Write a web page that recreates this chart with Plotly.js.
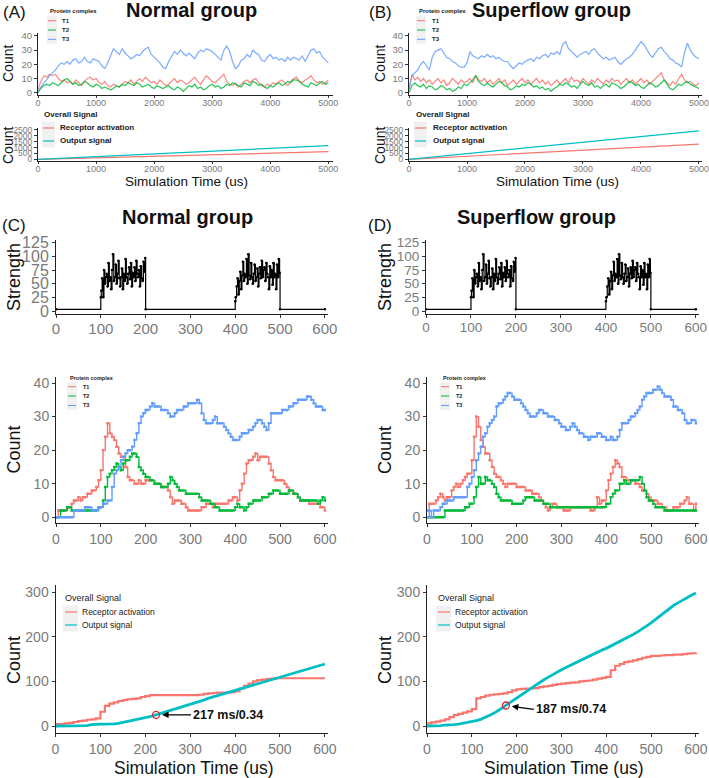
<!DOCTYPE html>
<html><head><meta charset="utf-8">
<script src="https://cdn.plot.ly/plotly-3.0.1.min.js"></script>
<style>html,body{margin:0;padding:0;background:#fff}#chart{width:709px;height:778px}</style>
</head><body><div id="chart"></div>
<script>
// ---------------- DATA ----------------
const seriesProtein = ['T1','T2','T3'];
const colorsProtein = ['#F8766D','#00BA38','#619CFF'];
const seriesSignal = ['Receptor activation','Output signal'];
const colorsSignal = ['#F8766D','#00BFC4'];

const tickLong = [0,1000,2000,3000,4000,5000];
const tickCount40 = [0,10,20,30,40];
const tickSignalLong = [0,500,1000,1500,2000,2500];
const tickShort = [0,100,200,300,400,500,600];
const tickStrength = [0,25,50,75,100,125];
const tickSignal = [0,100,200,300];

// 0..5000 us every 50 us (panels A, B protein)
const t50 = [0,50,100,150,200,250,300,350,400,450,
500,550,600,650,700,750,800,850,900,950,
1000,1050,1100,1150,1200,1250,1300,1350,1400,1450,
1500,1550,1600,1650,1700,1750,1800,1850,1900,1950,
2000,2050,2100,2150,2200,2250,2300,2350,2400,2450,
2500,2550,2600,2650,2700,2750,2800,2850,2900,2950,
3000,3050,3100,3150,3200,3250,3300,3350,3400,3450,
3500,3550,3600,3650,3700,3750,3800,3850,3900,3950,
4000,4050,4100,4150,4200,4250,4300,4350,4400,4450,
4500,4550,4600,4650,4700,4750,4800,4850,4900,4950,
5000];
const normalT1 = [2,8,12,11,13,12,13,10,8,9, 7,8,6,9,7,5,8,10,11,9, 10,7,6,8,5,4,6,5,4,6, 8,7,9,6,8,10,8,11,9,7,
 8,6,9,7,5,6,8,10,7,9, 8,6,7,9,11,8,6,9,12,10, 8,7,9,11,13,8,6,5,7,4, 6,8,9,7,9,10,7,5,4,6,
 5,7,6,8,9,7,5,8,10,11, 8,7,9,10,12,9,7,8,6,7, 9];
const normalT2 = [0,3,5,6,5,7,6,5,7,9, 10,8,6,7,5,6,8,7,5,4, 6,5,3,4,3,2,3,5,4,6, 5,7,6,5,7,6,4,5,6,4,
 3,5,4,3,4,5,3,2,4,3, 1,3,5,4,6,3,4,2,3,5, 6,4,5,3,4,6,5,7,6,5, 4,7,6,5,8,7,5,6,4,3,
 5,4,6,7,5,6,8,7,9,9, 8,6,5,4,7,6,5,7,8,6, 7];
const normalT3 = [1,4,7,9,12,14,16,19,21,20, 22,20,23,24,21,22,25,22,21,24, 23,22,19,17,21,26,31,29,27,31, 28,26,24,25,27,26,29,31,32,27,
 25,23,21,18,17,22,26,29,27,30, 28,26,28,26,24,28,30,29,31,30, 29,27,25,23,30,33,29,22,17,19, 23,24,27,25,30,28,27,23,22,25,
 27,24,25,23,24,22,25,23,25,24, 23,26,22,26,30,31,28,29,25,23, 21];
const superT1 = [3,13,9,11,8,10,7,9,6,8, 10,7,9,5,7,10,8,6,9,7, 8,10,7,12,9,8,10,7,9,6, 8,10,7,9,5,7,9,6,8,10,
 7,9,6,8,10,7,9,6,8,5, 7,9,6,8,10,7,11,8,9,7, 10,8,6,9,7,10,8,6,9,7, 10,8,9,6,8,10,7,9,6,8,
 10,7,9,6,8,10,12,14,9,7, 5,8,6,10,13,9,7,8,6,5, 7];
const superT2 = [0,5,7,5,4,6,3,5,4,2, 3,5,4,2,3,1,2,4,3,6, 5,7,9,12,8,6,5,7,5,4, 6,8,7,5,4,2,3,5,4,6,
 5,7,6,4,5,3,4,2,3,1, 3,4,6,5,7,6,4,5,3,6, 8,6,5,7,4,5,3,5,6,4, 7,6,5,3,4,6,8,7,5,6,
 4,3,5,7,6,4,5,7,9,6, 3,2,4,6,5,7,8,6,5,4, 3];
const superT3 = [2,12,14,16,20,22,19,16,25,29, 30,31,28,25,24,22,21,19,18,18, 21,29,26,25,24,26,25,27,25,26, 24,25,23,22,22,19,17,19,21,20,
 22,23,24,22,25,24,26,27,25,28, 27,29,27,34,36,31,29,27,25,27, 28,29,27,30,31,28,26,24,25,23, 24,25,22,20,22,24,25,27,30,33,
 36,34,30,27,25,28,31,32,29,27, 24,23,21,20,18,28,35,30,27,25, 24];

// 0..5000 us every 500 us (panels A, B overall signal)
const t500 = [0,500,1000,1500,2000,2500,3000,3500,4000,4500,5000];
const normalReceptorLong = [0,70,135,200,265,330,395,460,525,590,650];
const normalOutputLong   = [0,110,225,340,455,570,690,805,925,1040,1160];
const superReceptorLong  = [0,130,260,390,520,650,780,910,1040,1170,1300];
const superOutputLong    = [0,240,480,720,965,1210,1450,1690,1930,2170,2420];

// input strength (panels C, D)
const strengthT = [0,100,101,103,105,107,109,111,113,115,117,119,121,123,125,127,129,131,133,135,137,139,
 141,143,145,147,149,151,153,155,157,159,161,163,165,167,169,171,173,175,177,179,181,183,185,187,189,191,193,195,197,199,200,
 400,401,403,405,407,409,411,413,415,417,419,421,423,425,427,429,431,433,435,437,439,
 441,443,445,447,449,451,453,455,457,459,461,463,465,467,469,471,473,475,477,479,481,483,485,487,489,491,493,495,497,499,500,600];
const strengthV = [3,25,37,60,25,75,50,62,68,45,88,55,62,40,75,104,55,62,85,50,68,92,
 60,45,62,78,40,68,55,95,62,50,68,80,58,88,45,70,62,80,55,92,68,62,75,45,82,60,55,90,72,97,3,
 18,25,45,60,30,55,72,40,65,90,55,68,62,95,50,104,65,58,88,62,50,
 68,85,55,62,78,45,68,80,60,92,62,75,80,55,88,68,62,40,82,62,75,48,88,62,68,40,85,62,95,70,3,3];

// 0..600 us every 5 us (panels C, D protein)
const t5 = [0,5,10,15,20,25,30,35,40,45, 50,55,60,65,70,75,80,85,90,95,
 100,105,110,115,120,125,130,135,140,145, 150,155,160,165,170,175,180,185,190,195,
 200,205,210,215,220,225,230,235,240,245, 250,255,260,265,270,275,280,285,290,295,
 300,305,310,315,320,325,330,335,340,345, 350,355,360,365,370,375,380,385,390,395,
 400,405,410,415,420,425,430,435,440,445, 450,455,460,465,470,475,480,485,490,495,
 500,505,510,515,520,525,530,535,540,545, 550,555,560,565,570,575,580,585,590,595, 600];
const normalShortT1 = [0,2,2,2,2,3,3,4,5,5, 6,5,6,6,7,7,8,8,9,11, 14,20,24,28,25,24,23,21,19,18, 18,15,12,11,11,10,10,11,10,10,
 11,11,11,11,10,10,10,9,9,9, 8,6,4,5,5,5,4,4,3,2, 2,2,2,2,2,3,3,4,4,4, 3,4,4,4,4,4,4,5,5,6,
 6,5,8,10,13,16,17,17,18,19, 17,18,18,18,18,16,14,12,11,11, 11,11,10,9,8,8,7,7,6,5, 5,5,5,4,4,4,4,4,3,3, 2];
const normalShortT2 = [0,0,2,2,2,3,3,2,2,2, 2,2,2,2,2,2,2,2,2,3, 3,5,9,12,13,14,15,16,15,14, 16,17,17,18,19,19,18,15,14,13,
 12,12,11,11,10,10,10,9,9,9, 10,12,11,10,9,8,8,8,7,7, 7,7,7,7,6,5,5,5,5,4, 4,3,3,2,2,2,2,2,2,2,
 3,4,3,3,2,3,4,4,5,5, 5,5,6,6,6,7,7,8,8,8, 7,7,7,7,8,8,7,7,6,5, 5,5,5,5,5,5,5,4,5,6, 5];
const normalShortT3 = [0,0,0,0,0,0,0,0,2,2, 2,2,2,3,3,3,2,2,2,3, 3,4,4,5,5,9,13,14,15,17, 18,19,20,20,21,23,25,28,30,31,
 32,32,33,34,33,33,33,32,32,32, 31,30,30,31,32,32,32,33,33,34, 34,34,34,35,34,31,29,28,28,28, 29,30,28,28,28,27,26,25,24,23,
 23,23,24,25,25,25,26,26,27,28, 29,29,28,27,26,28,31,31,31,31, 31,32,32,32,33,33,34,34,35,35, 35,35,36,36,35,34,33,33,33,32, 32];
const superShortT1 = [2,4,4,4,5,6,7,6,5,6, 6,8,9,10,9,10,11,12,13,13, 17,24,30,27,23,21,19,19,17,15, 13,12,12,11,10,9,10,10,10,10,
 9,9,9,9,8,8,8,7,7,7, 6,5,4,3,2,3,4,4,3,3, 3,2,2,2,3,3,3,3,3,3, 3,3,3,2,2,3,6,4,5,5,
 8,11,13,15,17,16,15,12,12,11, 11,11,11,10,10,9,8,8,7,6, 5,5,5,4,4,3,3,2,2,2, 3,3,3,4,4,5,6,4,4,2, 4];
const superShortT2 = [0,0,0,0,0,0,0,0,2,2, 2,2,2,2,2,2,2,3,3,4, 4,6,9,12,10,10,12,11,11,10, 9,7,6,5,5,5,5,5,4,4,
 4,4,4,5,6,6,6,6,5,5, 5,5,4,4,4,3,3,3,3,3, 3,3,3,3,3,3,3,3,3,3, 3,3,3,3,3,3,3,3,3,3,
 4,4,6,7,8,8,10,10,11,10, 10,11,11,11,11,12,10,8,6,5, 5,4,3,3,3,3,2,2,2,2, 2,2,2,2,2,2,2,2,2,2, 2];
const superShortT3 = [0,2,0,2,2,2,3,4,4,5, 5,5,6,6,6,6,6,6,9,10, 12,14,17,19,21,24,25,27,28,29, 30,33,34,34,35,36,37,37,36,35,
 35,35,34,33,32,31,30,30,30,31, 32,32,31,31,30,30,30,29,29,28, 27,27,26,26,27,28,27,26,25,25, 24,24,23,24,24,24,25,25,24,24,
 23,23,24,23,23,24,26,28,28,28, 29,30,30,31,32,33,35,36,37,37, 37,38,38,39,38,37,36,36,36,35, 33,33,32,32,31,29,28,28,29,29, 28];

// 0..600 us every 10 us (panels C, D overall signal)
const t10 = [0,10,20,30,40,50,60,70,80,90, 100,110,120,130,140,150,160,170,180,190,
 200,210,220,230,240,250,260,270,280,290, 300,310,320,330,340,350,360,370,380,390,
 400,410,420,430,440,450,460,470,480,490, 500,510,520,530,540,550,560,570,580,590, 600];
const normalReceptor = [4,4,6,7,9,11,12,14,15,17, 32,45,50,53,56,58,60,61,62,65, 67,69,69,69,69,69,69,69,69,69,
 69,69,70,72,73,74,75,75,75,76, 78,84,90,95,100,103,104,105,106,107, 107,107,107,107,107,107,107,107,107,107, 107];
const normalOutput = [0,0,0,0,0,0,1,1,3,4, 4,4,4,5,6,8,10,12,15,17, 19,21,24,27,30,33,36,40,43,46,
 49,52,55,58,62,65,68,71,74,77, 80,83,86,89,92,95,98,101,104,106, 109,112,115,118,121,124,127,130,133,136, 139];
const superReceptor = [6,8,10,12,15,20,25,27,30,33, 38,62,65,68,70,71,72,73,76,80, 82,83,84,84,85,87,89,90,92,94,
 95,96,97,98,100,101,102,104,106,108, 110,125,135,139,143,145,147,150,153,155, 157,157,158,159,159,160,160,161,162,163, 165];
const superOutput = [0,0,1,1,2,2,3,4,6,8, 9,12,15,19,24,29,35,42,49,56, 63,70,77,84,91,97,103,109,115,121,
 126,131,136,141,146,151,156,161,165,170, 174,179,184,189,194,199,205,211,217,224, 231,239,246,254,262,270,276,282,287,293, 298];

// marked points on the output-signal curves
const noteNormal = {t: 224, v: 25, label: '217 ms/0.34'};
const noteSuper  = {t: 176, v: 46, label: '187 ms/0.74'};

// ---------------- LAYOUT HELPERS ----------------
const W = 709, H = 778;
const FONT = 'Liberation Sans, Arial, Helvetica, sans-serif';
const px = x => x / W;
const py = y => 1 - y / H;
const dX = (a, b) => [a / W, b / W];
const dY = (top, bottom) => [1 - bottom / H, 1 - top / H];

function axis(domain, range, tickvals, size, anchor, extra) {
  return Object.assign({
    domain, range, anchor, tickmode: 'array', tickvals, ticktext: tickvals.map(String),
    showline: true, linecolor: '#222', linewidth: 1, ticks: 'outside', ticklen: 3,
    tickcolor: '#333', tickwidth: 1, tickfont: {size, color: '#7a7a7a', family: FONT},
    showgrid: false, zeroline: false, fixedrange: true
  }, extra || {});
}

const traces = [];
function lineTrace(x, y, name, color, xa, ya, width, extra) {
  traces.push(Object.assign({
    type: 'scatter', mode: 'lines', x, y, name, xaxis: xa, yaxis: ya,
    line: {color, width}, hoverinfo: 'skip', showlegend: false
  }, extra || {}));
}

// A / B protein
[[normalT1, normalT2, normalT3, 'x', 'y'], [superT1, superT2, superT3, 'x3', 'y3']].forEach(p => {
  for (let i = 0; i < 3; i++) lineTrace(t50, p[i], seriesProtein[i], colorsProtein[i], p[3], p[4], 1.2, {opacity: 0.85});
});
// A / B signal
[[normalReceptorLong, normalOutputLong, 'x2', 'y2'], [superReceptorLong, superOutputLong, 'x4', 'y4']].forEach(p => {
  for (let i = 0; i < 2; i++) lineTrace(t500, p[i], seriesSignal[i], colorsSignal[i], p[2], p[3], 1.2);
});
// C / D strength
[['x5', 'y5'], ['x6', 'y6']].forEach(p => {
  lineTrace(strengthT, strengthV, 'Strength', '#000', p[0], p[1], 1.2,
    {mode: 'lines+markers', line: {color: '#000', width: 1.2, shape: 'hv'}, marker: {size: 2.5, color: '#000'}});
});
// C / D protein
[[normalShortT1, normalShortT2, normalShortT3, 'x7', 'y7'], [superShortT1, superShortT2, superShortT3, 'x8', 'y8']].forEach(p => {
  for (let i = 0; i < 3; i++) lineTrace(t5, p[i], seriesProtein[i], colorsProtein[i], p[3], p[4], 1.4,
    {mode: 'lines+markers', line: {color: colorsProtein[i], width: 1.4, shape: 'hv'}, marker: {size: 2.5, symbol: 'square', color: colorsProtein[i]}});
});
// C / D signal
[[normalReceptor, normalOutput, 'x9', 'y9', noteNormal], [superReceptor, superOutput, 'x10', 'y10', noteSuper]].forEach(p => {
  lineTrace(t10, p[0], seriesSignal[0], colorsSignal[0], p[2], p[3], 2.2, {line: {color: colorsSignal[0], width: 2.2, shape: 'hv'}});
  lineTrace(t10, p[1], seriesSignal[1], colorsSignal[1], p[2], p[3], 2.8);
  traces.push({type: 'scatter', mode: 'markers', x: [p[4].t], y: [p[4].v], xaxis: p[2], yaxis: p[3],
    marker: {symbol: 'circle-open', size: 7, color: '#E8202A', line: {width: 1.3}}, hoverinfo: 'skip', showlegend: false});
});

// ---------------- AXES ----------------
const up = {ticklen: 2, ticklabelstandoff: -3};
const up2 = {ticklabelstandoff: -2};
const layout = {
  width: W, height: H, margin: {l: 0, r: 0, t: 0, b: 0},
  paper_bgcolor: '#fff', plot_bgcolor: 'rgba(0,0,0,0)', showlegend: false,
  font: {family: FONT},
  xaxis:  axis(dX(38, 333), [0, 5080], tickLong, 9, 'y', up),
  yaxis:  axis(dY(32.7, 95), [-1.6, 42.3], tickCount40, 9.5, 'x'),
  xaxis2: axis(dX(38, 333), [0, 5080], tickLong, 9, 'y2', up),
  yaxis2: axis(dY(128, 161), [-145, 2670], tickSignalLong, 8.5, 'x2'),
  xaxis3: axis(dX(409, 702), [0, 5052], tickLong, 9, 'y3', up),
  yaxis3: axis(dY(32.7, 95), [-1.6, 42.3], tickCount40, 9.5, 'x3'),
  xaxis4: axis(dX(409, 702), [0, 5052], tickLong, 9, 'y4', up),
  yaxis4: axis(dY(128, 161), [-145, 2670], tickSignalLong, 8.5, 'x4'),
  xaxis5: axis(dX(56, 328), [0, 607], tickShort, 15, 'y5', up2),
  yaxis5: axis(dY(240, 314), [-5.5, 130], tickStrength, 16, 'x5'),
  xaxis6: axis(dX(426, 699), [0, 607], tickShort, 13.5, 'y6', up2),
  yaxis6: axis(dY(240, 314), [-5.5, 130], tickStrength, 13.5, 'x6'),
  xaxis7: axis(dX(56, 328), [0, 607], tickShort, 14, 'y7'),
  yaxis7: axis(dY(377, 523.3), [-1.8, 41.8], tickCount40, 14, 'x7'),
  xaxis8: axis(dX(427, 699), [0, 607], tickShort, 14, 'y8'),
  yaxis8: axis(dY(377, 523.3), [-1.8, 41.8], tickCount40, 14, 'x8'),
  xaxis9: axis(dX(55.5, 328), [0, 607], tickShort, 14, 'y9'),
  yaxis9: axis(dY(585, 732.7), [-15, 316], tickSignal, 14, 'x9'),
  xaxis10: axis(dX(427, 699), [0, 607], tickShort, 14, 'y10'),
  yaxis10: axis(dY(585, 732.7), [-15, 316], tickSignal, 14, 'x10'),
  shapes: [], annotations: []
};

function text(t, x, y, size, extra) {
  layout.annotations.push(Object.assign({
    text: t, xref: 'paper', yref: 'paper', x: px(x), y: py(y), xanchor: 'center', yanchor: 'middle',
    showarrow: false, font: {size, color: '#111', family: FONT}
  }, extra || {}));
}

// panel letters and group titles
text('(A)', 15, 13, 17); text('<b>Normal group</b>', 191, 10, 20);
text('(B)', 380, 13, 17); text('<b>Superflow group</b>', 551.5, 10, 20);
text('(C)', 14, 225, 17); text('<b>Normal group</b>', 187.5, 217, 20);
text('(D)', 380, 225, 17); text('<b>Superflow group</b>', 536.5, 217, 20);

// axis titles
const rot = {textangle: -90};
text('Count', 8, 64, 14, rot); text('Count', 8, 146, 14, rot);
text('Count', 380, 64, 14, rot); text('Count', 380, 146, 14, rot);
text('Simulation Time (us)', 186, 181, 13.5); text('Simulation Time (us)', 557, 181, 13.5);
text('Strength', 14, 277, 18, rot); text('Strength', 385, 277, 18, rot);
text('Count', 13.5, 450, 18, rot); text('Count', 385, 450, 18, rot);
text('Count', 14, 660, 18, rot); text('Count', 385, 660, 18, rot);
text('Simulation Time (us)', 194, 768, 17.5); text('Simulation Time (us)', 564, 768, 17.5);

// legends (ggplot style keys)
function legend(cfg) {
  text(cfg.bold ? '<b>' + cfg.title + '</b>' : cfg.title, cfg.titleX, cfg.titleY, cfg.titleSize,
    {xanchor: 'left', font: {size: cfg.titleSize, color: '#222', family: FONT}});
  cfg.names.forEach((n, i) => {
    const yc = cfg.ys[i];
    layout.shapes.push({type: 'rect', xref: 'paper', yref: 'paper', x0: px(cfg.box[0]), x1: px(cfg.box[1]),
      y0: py(yc + cfg.boxH / 2), y1: py(yc - cfg.boxH / 2), fillcolor: '#f0f0f0', line: {width: 0}, layer: 'below'});
    layout.shapes.push({type: 'line', xref: 'paper', yref: 'paper', x0: px(cfg.line[0]), x1: px(cfg.line[1]),
      y0: py(yc), y1: py(yc), line: {color: cfg.colors[i], width: cfg.lw}});
    text(cfg.bold ? '<b>' + n + '</b>' : n, cfg.textX, yc, cfg.size,
      {xanchor: 'left', font: {size: cfg.size, color: '#222', family: FONT}});
  });
}
legend({title: 'Protein complex', titleX: 48, titleY: 11, titleSize: 6, bold: true, names: seriesProtein, colors: colorsProtein,
  ys: [20.7, 30, 39.3], box: [47, 57], boxH: 9, line: [48, 56], lw: 1, textX: 60, size: 6});
legend({title: 'Protein complex', titleX: 417, titleY: 11, titleSize: 6, bold: true, names: seriesProtein, colors: colorsProtein,
  ys: [20.7, 30, 39.3], box: [416, 426], boxH: 9, line: [417, 425], lw: 1, textX: 430, size: 6});
legend({title: 'Overall Signal', titleX: 42, titleY: 114, titleSize: 8, bold: true, names: seriesSignal, colors: colorsSignal,
  ys: [128, 141], box: [42, 55], boxH: 13, line: [43, 54], lw: 1.2, textX: 58, size: 8});
legend({title: 'Overall Signal', titleX: 414, titleY: 114, titleSize: 8, bold: true, names: seriesSignal, colors: colorsSignal,
  ys: [128, 141], box: [414, 427], boxH: 13, line: [415, 426], lw: 1.2, textX: 431, size: 8});
legend({title: 'Protein complex', titleX: 68, titleY: 378, titleSize: 5.5, bold: true, names: seriesProtein, colors: colorsProtein,
  ys: [386.7, 396, 405.5], box: [67, 77], boxH: 9, line: [68, 76], lw: 1, textX: 81, size: 5.5});
legend({title: 'Protein complex', titleX: 441, titleY: 378, titleSize: 5.5, bold: true, names: seriesProtein, colors: colorsProtein,
  ys: [386.7, 396, 405.5], box: [440, 450], boxH: 9, line: [441, 449], lw: 1, textX: 454, size: 5.5});
legend({title: 'Overall Signal', titleX: 63, titleY: 598, titleSize: 9, bold: false, names: seriesSignal, colors: colorsSignal,
  ys: [612, 625], box: [63, 78], boxH: 13, line: [65, 77], lw: 1.2, textX: 80, size: 8.5});
legend({title: 'Overall Signal', titleX: 436, titleY: 598, titleSize: 9, bold: false, names: seriesSignal, colors: colorsSignal,
  ys: [612, 625], box: [436, 451], boxH: 13, line: [438, 450], lw: 1.2, textX: 453, size: 8.5});

// arrows to the marked points
layout.annotations.push({xref: 'x9', yref: 'y9', x: noteNormal.t, y: noteNormal.v, ax: 35, ay: 0, standoff: 6,
  text: '<b>' + noteNormal.label + '</b>', showarrow: true, arrowhead: 2, arrowsize: 1, arrowwidth: 1.3, arrowcolor: '#000',
  xanchor: 'left', yanchor: 'middle', font: {size: 12.5, color: '#111', family: FONT}});
layout.annotations.push({xref: 'x10', yref: 'y10', x: noteSuper.t, y: noteSuper.v, ax: 28, ay: 4, standoff: 6,
  text: '<b>' + noteSuper.label + '</b>', showarrow: true, arrowhead: 2, arrowsize: 1, arrowwidth: 1.3, arrowcolor: '#000',
  xanchor: 'left', yanchor: 'middle', font: {size: 12.5, color: '#111', family: FONT}});

Plotly.newPlot('chart', traces, layout, {staticPlot: true, displayModeBar: false});
</script></body></html>
